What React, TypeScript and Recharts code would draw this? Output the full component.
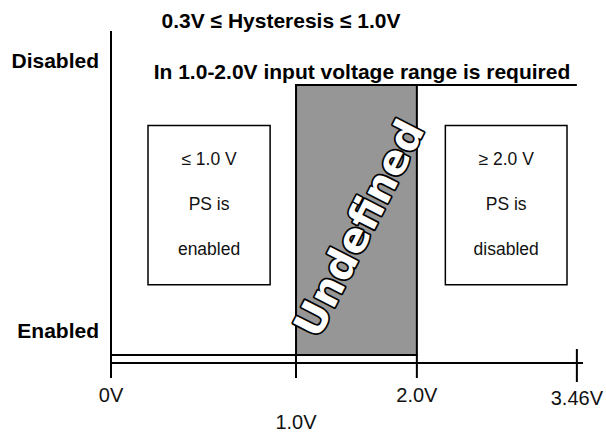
import { ComposedChart, Customized, Line, ReferenceArea, XAxis, YAxis } from 'recharts'

const VOLT_TICKS = [0, 1.0, 2.0, 3.46]
const VOLT_LABELS = ['0V', '1.0V', '2.0V', '3.46V']
const STATE_TICKS = [0, 1]
const STATE_LABELS = ['Enabled', 'Disabled']

const ENABLED_TRACE = [
  { vin: 0, state: 0 },
  { vin: 2.0, state: 0 },
]
const DISABLED_TRACE = [
  { vin: 2.0, state: 1 },
  { vin: 3.46, state: 1 },
]
const UNDEFINED_RANGE = [1.0, 2.0]

const LOW_NOTE = ['≤ 1.0 V', 'PS is', 'enabled']
const HIGH_NOTE = ['≥ 2.0 V', 'PS is', 'disabled']

const TITLE = '0.3V ≤ Hysteresis ≤ 1.0V'
const SUBTITLE = 'In 1.0-2.0V input voltage range is required'

// the voltage axis in the original sketch is not to scale, so map it piecewise
const SCALE_VOLTS = [0, 1.0, 2.0, 3.46, 3.5]
const SCALE_FRACTIONS = [0, 0.392, 0.648, 0.987, 1]

function sketchScale(): any {
  let dom = [0, 3.5]
  let rng = [0, 1]
  const s: any = (v: number) => {
    let t = 0
    if (v <= SCALE_VOLTS[0]) t = SCALE_FRACTIONS[0]
    else if (v >= SCALE_VOLTS[SCALE_VOLTS.length - 1]) t = SCALE_FRACTIONS[SCALE_FRACTIONS.length - 1]
    else {
      for (let i = 0; i < SCALE_VOLTS.length - 1; i++) {
        const a = SCALE_VOLTS[i]
        const b = SCALE_VOLTS[i + 1]
        if (v >= a && v <= b) {
          t = SCALE_FRACTIONS[i] + ((v - a) / (b - a)) * (SCALE_FRACTIONS[i + 1] - SCALE_FRACTIONS[i])
          break
        }
      }
    }
    return rng[0] + t * (rng[1] - rng[0])
  }
  s.domain = (d?: number[]) => {
    if (d === undefined) return dom.slice()
    dom = d.slice()
    return s
  }
  s.range = (r?: number[]) => {
    if (r === undefined) return rng.slice()
    rng = r.slice()
    return s
  }
  s.copy = () => sketchScale().domain(dom).range(rng)
  s.ticks = () => VOLT_TICKS.slice()
  return s
}

const FONT = "'Liberation Sans', Arial, sans-serif"

function VoltTick(props: any) {
  const { x, y, payload } = props
  const i = VOLT_TICKS.indexOf(payload.value)
  const low = payload.value === 1.0
  const last = i === VOLT_TICKS.length - 1
  return (
    <g>
      <line x1={x} x2={x} y1={y - (last ? 14 : 9)} y2={y + (last ? 19 : 15)} stroke="#000" strokeWidth={2} />
      <text
        x={x}
        y={y + (low ? 66 : last ? 42 : 39)}
        textAnchor="middle"
        fontFamily={FONT}
        fontSize={20}
        fill="#111"
      >
        {VOLT_LABELS[i]}
      </text>
    </g>
  )
}

function StateTick(props: any) {
  const { x, y, payload } = props
  const i = STATE_TICKS.indexOf(payload.value)
  return (
    <text x={x - 12} y={y - 17} textAnchor="end" fontFamily={FONT} fontSize={21} fontWeight="bold" fill="#000">
      {STATE_LABELS[i]}
    </text>
  )
}

function NoteText({ viewBox, lines }: any) {
  const cx = viewBox.x + viewBox.width / 2
  const cy = viewBox.y + viewBox.height / 2
  return (
    <g>
      {lines.map((t: string, k: number) => (
        <text
          key={k}
          x={cx}
          y={cy + (k - 1) * 45 + 5}
          textAnchor="middle"
          fontFamily={FONT}
          fontSize={17.5}
          fill="#111"
        >
          {t}
        </text>
      ))}
    </g>
  )
}

function UndefinedText({ viewBox }: any) {
  const cx = viewBox.x + viewBox.width / 2 + 2
  const cy = viewBox.y + viewBox.height / 2 + 8
  return (
    <text
      x={cx}
      y={cy}
      dy="0.36em"
      transform={`rotate(-63 ${cx} ${cy})`}
      textAnchor="middle"
      fontFamily="'DejaVu Sans', sans-serif"
      fontWeight="bold"
      fontSize={41}
      fill="#fff"
      stroke="#000"
      strokeWidth={3.5}
      strokeLinejoin="round"
      paintOrder="stroke"
    >
      Undefined
    </text>
  )
}

function Titles() {
  return (
    <g>
      <text x={281} y={28} textAnchor="middle" fontFamily={FONT} fontSize={21} fontWeight="bold" fill="#000">
        {TITLE}
      </text>
      <text x={362} y={79} textAnchor="middle" fontFamily={FONT} fontSize={21} fontWeight="bold" fill="#000">
        {SUBTITLE}
      </text>
    </g>
  )
}

export default function App() {
  return (
    <div style={{ position: 'absolute', left: 0, top: 0, width: 606, height: 434, background: '#fff' }}>
      <ComposedChart width={606} height={434} margin={{ top: 31, right: 23, bottom: 41, left: 11 }}>
        <XAxis
          dataKey="vin"
          type="number"
          scale={sketchScale()}
          domain={[0, 3.5]}
          ticks={VOLT_TICKS}
          interval={0}
          height={30}
          tickSize={0}
          tickMargin={0}
          tickLine={false}
          axisLine={{ stroke: '#000', strokeWidth: 2 }}
          tick={<VoltTick />}
        />
        <YAxis
          type="number"
          domain={[-0.03, 1.2]}
          ticks={STATE_TICKS}
          interval={0}
          width={100}
          tickSize={0}
          tickMargin={0}
          tickLine={false}
          axisLine={{ stroke: '#000', strokeWidth: 2 }}
          tick={<StateTick />}
        />
        <ReferenceArea
          x1={UNDEFINED_RANGE[0]}
          x2={UNDEFINED_RANGE[1]}
          y1={0}
          y2={1}
          fill="#969696"
          fillOpacity={1}
          stroke="#000"
          strokeWidth={2}
          label={(p: any) => <UndefinedText {...p} />}
        />
        <ReferenceArea
          x1={0.2}
          x2={0.86}
          y1={0.26}
          y2={0.85}
          fill="#fff"
          fillOpacity={1}
          stroke="#000"
          strokeWidth={1.5}
          label={(p: any) => <NoteText {...p} lines={LOW_NOTE} />}
        />
        <ReferenceArea
          x1={2.26}
          x2={3.37}
          y1={0.26}
          y2={0.85}
          fill="#fff"
          fillOpacity={1}
          stroke="#000"
          strokeWidth={1.5}
          label={(p: any) => <NoteText {...p} lines={HIGH_NOTE} />}
        />
        <Line
          data={ENABLED_TRACE}
          dataKey="state"
          stroke="#000"
          strokeWidth={2}
          dot={false}
          isAnimationActive={false}
        />
        <Line
          data={DISABLED_TRACE}
          dataKey="state"
          stroke="#000"
          strokeWidth={2}
          dot={false}
          isAnimationActive={false}
        />
        <Customized component={<Titles />} />
      </ComposedChart>
    </div>
  )
}
